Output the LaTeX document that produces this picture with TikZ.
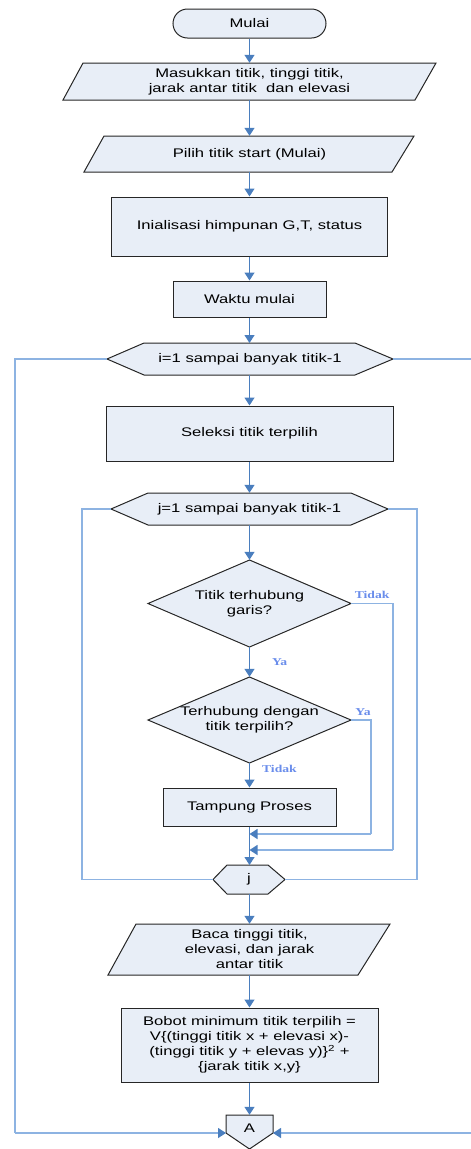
\documentclass[tikz,border=0pt]{standalone}
\usepackage{fontspec}
\setmainfont{Liberation Sans}[FakeStretch=1.33]
\newfontfamily\lblfont{Liberation Serif}[FakeStretch=1.3]
\usetikzlibrary{arrows.meta}
\definecolor{boxfill}{HTML}{E8EEF7}
\definecolor{flowblue}{HTML}{4A7EBE}
\definecolor{loopblue}{HTML}{8DB3E2}
\definecolor{lblblue}{HTML}{6A8DEB}
\tikzset{
  x=1pt, y=-1pt,
  outline/.style={fill=boxfill, draw=black!85, line width=1pt},
  procbox/.style={outline, rectangle, inner sep=0pt, align=center},
  termbox/.style={procbox, rounded corners=14.5pt},
  label/.style={inner sep=0pt, align=center},
  flow/.style={draw=flowblue, line width=1.2pt, -{Triangle[length=8pt,width=10pt]}},
  loopline/.style={draw=loopblue, line width=1.3pt},
  loopin/.style={loopline, -{Triangle[length=8pt,width=10pt,fill=flowblue,color=flowblue]}},
  branch/.style={font=\lblfont\bfseries\fontsize{10.5}{12}\selectfont, text=lblblue, inner sep=0pt},
}
\begin{document}
\begin{tikzpicture}[font=\fontsize{12.5}{15}\selectfont]
\useasboundingbox (0,0) rectangle (471,1149);

% terminator
\node[termbox, minimum width=153pt, minimum height=29pt] (start) at (249.5,23.5) {Mulai};

% input 1
\draw[outline] (83,63) -- (436,63) -- (415,100) -- (63,100) -- cycle;
\node[label, minimum width=330pt, minimum height=37pt] (in1) at (249.5,81.5)
  {Masukkan titik, tinggi titik,\\jarak antar titik\ \ dan elevasi};

% input 2
\draw[outline] (104,136) -- (414,136) -- (392,172) -- (84,172) -- cycle;
\node[label, minimum width=290pt, minimum height=36pt] (in2) at (249.5,154) {Pilih titik start (Mulai)};

\node[procbox, minimum width=276pt, minimum height=59pt] (init) at (249.5,226.5) {Inialisasi himpunan G,T, status};
\node[procbox, minimum width=153pt, minimum height=36pt] (wak) at (249.5,299) {Waktu mulai};

% outer loop header
\draw[outline] (107,359) -- (144,343) -- (355,343) -- (393,359) -- (355,375) -- (144,375) -- cycle;
\node[label, minimum width=286pt, minimum height=32pt] (hexi) at (250,359) {i=1 sampai banyak titik-1};

\node[procbox, minimum width=287pt, minimum height=55pt] (sel) at (249.5,433.5) {Seleksi titik terpilih};

% inner loop header
\draw[outline] (111,509) -- (148,493) -- (351,493) -- (388,509) -- (351,525) -- (148,525) -- cycle;
\node[label, minimum width=277pt, minimum height=32pt] (hexj) at (249.5,509) {j=1 sampai banyak titik-1};

% decisions
\draw[outline] (249.5,560) -- (351,603.5) -- (249.5,647) -- (148,603.5) -- cycle;
\node[label, minimum width=203pt, minimum height=87pt] (d1) at (249.5,603.5) {Titik terhubung\\garis?};

\draw[outline] (249.5,677) -- (351,720) -- (249.5,763) -- (148,720) -- cycle;
\node[label, minimum width=203pt, minimum height=86pt] (d2) at (249.5,720) {Terhubung dengan\\titik terpilih?};

\node[procbox, minimum width=173pt, minimum height=38pt] (tamp) at (249.5,807) {Tampung Proses};

% inner loop end
\draw[outline] (213,879.5) -- (227,865) -- (268,865) -- (285,879.5) -- (268,894) -- (227,894) -- cycle;
\node[label, minimum width=72pt, minimum height=29pt] (hexj2) at (249,879.5) {j};

% input 3
\draw[outline] (136,924) -- (390,924) -- (358,975) -- (108,975) -- cycle;
\node[label, minimum width=250pt, minimum height=51pt] (baca) at (249.5,949.5)
  {Baca tinggi titik,\\elevasi, dan jarak\\antar titik};

\node[procbox, minimum width=257pt, minimum height=74pt] (bobot) at (249.5,1045)
  {Bobot minimum titik terpilih =\\V\{(tinggi titik x + elevasi x)-\\(tinggi titik y + elevas y)\}\textsuperscript{2} +\\\{jarak titik x,y\}};

% off-page connector
\draw[outline] (226,1115) -- (273,1115) -- (273,1133) -- (249.5,1149) -- (226,1133) -- cycle;
\node[label, minimum width=47pt, minimum height=34pt] (conA) at (249.5,1132) {};
\node[label] (Atext) at (249.5,1128) {A};
\coordinate (Aw) at (226,1133);
\coordinate (Ae) at (273,1133);

% main flow
\draw[flow] (start.south) -- (in1.north);
\draw[flow] (in1.south) -- (in2.north);
\draw[flow] (in2.south) -- (init.north);
\draw[flow] (init.south) -- (wak.north);
\draw[flow] (wak.south) -- (249.5,343);
\draw[flow] (249.5,375) -- (sel.north);
\draw[flow] (sel.south) -- (hexj.north);
\draw[flow] (hexj.south) -- (d1.north);
\draw[flow] (d1.south) -- node[branch, pos=0.5, right=22pt] {Ya} (d2.north);
\draw[flow] (d2.south) -- node[branch, pos=0.25, right=12pt] {Tidak} (tamp.north);
\draw[flow] (tamp.south) -- (249.5,865);
\draw[flow] (249.5,894) -- (baca.north);
\draw[flow] (baca.south) -- (bobot.north);
\draw[flow] (bobot.south) -- (conA.north);

% branches rejoining the flow
\coordinate (j1) at (249.5,850);
\coordinate (j2) at (249.5,834);
\draw[loopline] (d1.east) -- node[branch, pos=0.5, above=4pt] {Tidak} (393,603.5) -- (393,850);
\draw[loopin] (393,850) -- (j1);
\draw[loopline] (d2.east) -- node[branch, pos=0.6, above=4pt] {Ya} (371,720) -- (371,834);
\draw[loopin] (371,834) -- (j2);

% inner loop return lines
\draw[loopline] (hexj2.west) -- (82,879.5) -- (82,509) -- (hexj.west);
\draw[loopline] (hexj2.east) -- (417,879.5) -- (417,509) -- (hexj.east);

% outer loop return lines
\draw[loopline] (hexi.west) -- (15,359) -- (15,1133);
\draw[loopin] (15,1133) -- (Aw);
\draw[loopline] (hexi.east) -- (474,359) -- (474,1133);
\draw[loopin] (474,1133) -- (Ae);
\end{tikzpicture}
\end{document}
